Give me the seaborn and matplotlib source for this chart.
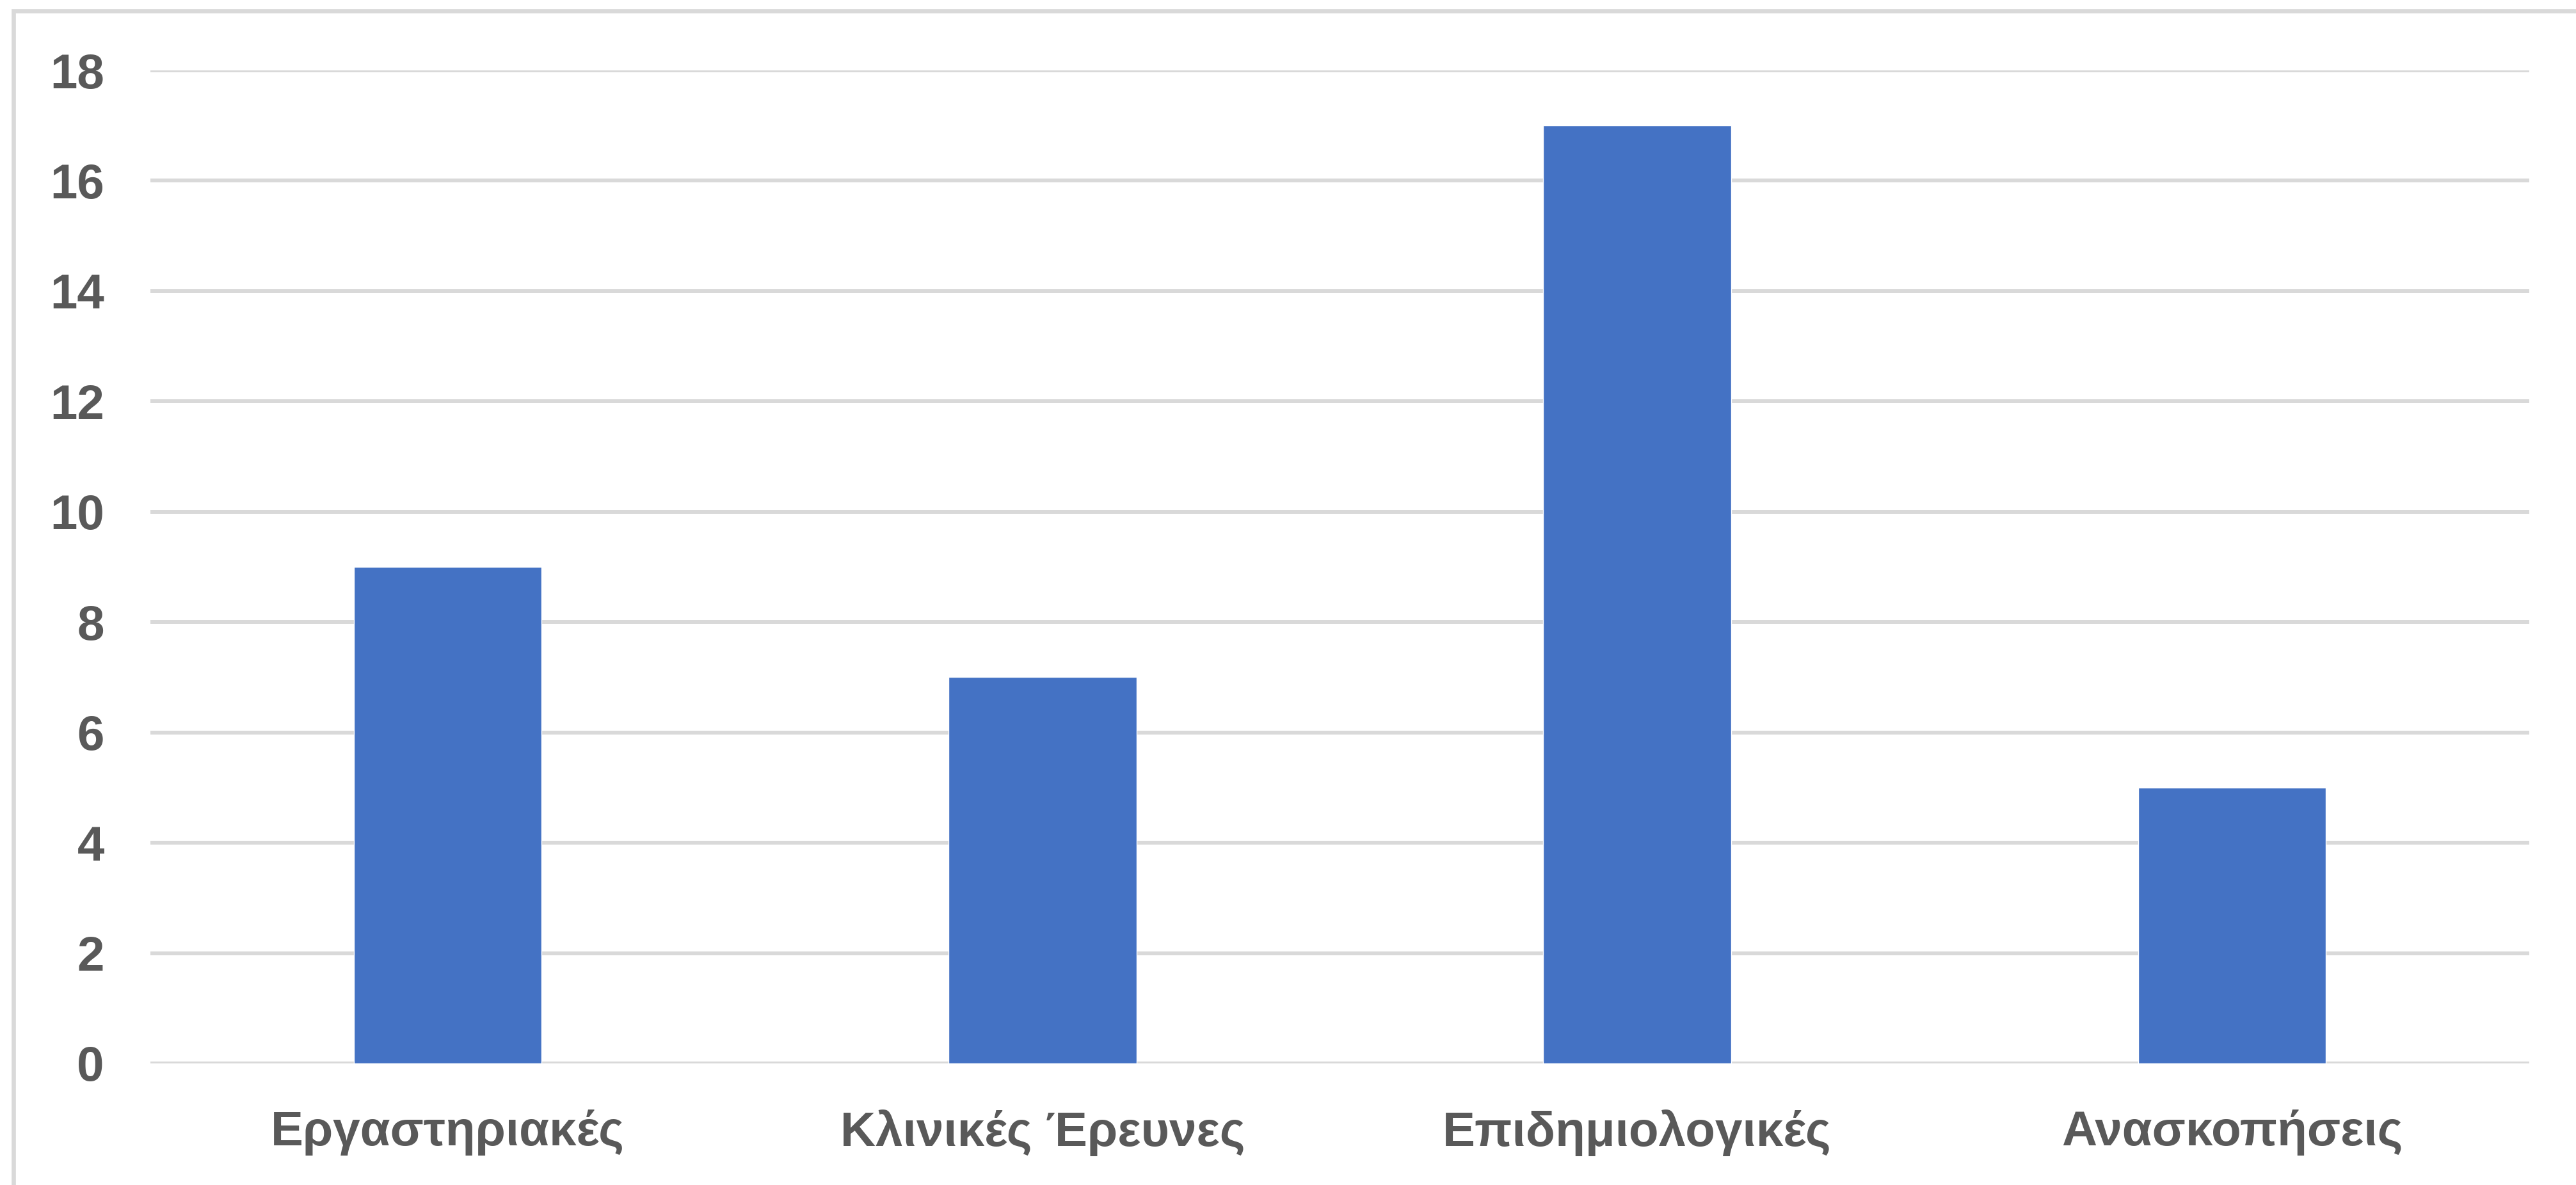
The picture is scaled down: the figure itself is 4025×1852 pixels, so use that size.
import matplotlib
matplotlib.use('Agg')
import matplotlib.pyplot as plt
from matplotlib.patches import Rectangle
import seaborn as sns
import pandas as pd

# Datos del gráfico
categorias = ['Εργαστηριακές', 'Κλινικές Έρευνες', 'Επιδημιολογικές', 'Ανασκοπήσεις']
valores = [9, 7, 17, 5]
ticks_y = [0, 2, 4, 6, 8, 10, 12, 14, 16, 18]

df = pd.DataFrame({'categoria': categorias, 'valor': valores})

sns.set_style('white')
plt.rcParams['font.family'] = ['Liberation Sans', 'DejaVu Sans']

fig = plt.figure(figsize=(40.25, 18.52), dpi=100)
ax = fig.add_axes([235 / 4025, 1 - 1662 / 1852, (3952 - 235) / 4025, (1662 - 110) / 1852])

sns.barplot(data=df, x='categoria', y='valor', color='#4472C4', saturation=1,
            width=0.316, ax=ax, zorder=3)

# Rejilla horizontal
ax.set_ylim(0, 18)
ax.set_yticks(ticks_y)
ax.yaxis.grid(True, color='#D9D9D9', linewidth=4.3, zorder=0)
ax.set_axisbelow(True)
for s in ax.spines.values():
    s.set_visible(False)

ax.tick_params(axis='both', length=0, labelsize=55, labelcolor='#595959')
ax.tick_params(axis='y', pad=52)
ax.tick_params(axis='x', pad=52)
for lab in ax.get_xticklabels() + ax.get_yticklabels():
    lab.set_fontweight('bold')
ax.set_xlabel('')
ax.set_ylabel('')

# Borde del área del gráfico
borde = Rectangle((21 / 4025, -0.05), 1.2, 1 - 17 / 1852 + 0.05, transform=fig.transFigure,
                  fill=False, edgecolor='#D9D9D9', linewidth=4.8, clip_on=False)
fig.add_artist(borde)

fig.savefig('out.png', dpi=100, facecolor='white')
